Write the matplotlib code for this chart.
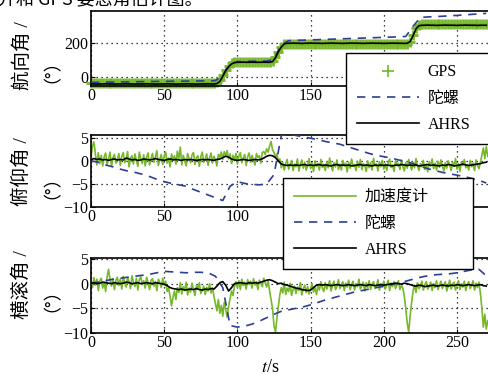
import numpy as np
import matplotlib
matplotlib.use("Agg")
import matplotlib.pyplot as plt

plt.rcParams['font.family'] = ['Liberation Serif', 'Noto Sans CJK SC']
plt.rcParams['mathtext.fontset'] = 'stix'
plt.rcParams['axes.unicode_minus'] = True

# ---------------- data ----------------
t_gps = np.arange(0, 272, 2)      # 2 s samples
t_acc = np.arange(0, 272, 1)      # 1 s samples
t_gyro = np.arange(0, 275, 5)     # 5 s samples

heading_gps = [
    -35, -34, -36, -35, -35, -34, -36, -35, -35, -34,
    -35, -36, -35, -34, -35, -35, -36, -35, -34, -35,
    -35, -36, -35, -34, -35, -35, -36, -35, -34, -35,
    -35, -36, -35, -34, -35, -35, -36, -35, -34, -35,
    -35, -34, -35,
    -30, -15, 10, 40, 65, 82, 88,
    89, 90, 88, 89, 90, 89, 88, 90, 89, 88, 89, 90,
    95, 120, 150, 180, 195,
    196, 197, 196, 195, 197, 196, 196, 197, 195, 196,
    197, 196, 195, 196, 197, 196, 196, 195, 197, 196,
    196, 197, 196, 195, 196, 197, 196, 196, 195, 197,
    196, 196, 197, 196, 195, 196, 197, 196, 196, 195,
    197, 196,
    210, 250, 290, 310,
    312, 313, 312, 311, 312, 313, 312, 312, 311, 313,
    312, 312, 313, 312, 311, 312, 313, 312, 312, 311,
    312, 313, 312,
]
heading_ahrs = [
    -40, -40, -41, -40, -40, -39, -40, -40, -41, -40,
    -40, -40, -39, -40, -40, -41, -40, -40, -40, -39,
    -40, -40, -41, -40, -40, -40, -39, -40, -40, -41,
    -40, -40, -40, -39, -40, -40, -41, -40, -40, -40,
    -39, -40, -40,
    -38, -25, 5, 40, 62, 78, 86,
    88, 88, 89, 88, 88, 89, 88, 88, 88, 89, 88, 88,
    92, 115, 150, 178, 196,
    200, 200, 201, 200, 200, 199, 200, 200, 201, 200,
    200, 200, 199, 200, 200, 201, 200, 200, 200, 199,
    200, 200, 201, 200, 200, 200, 199, 200, 200, 201,
    200, 200, 200, 199, 200, 200, 201, 200, 200, 200,
    199, 200,
    210, 245, 285, 303,
    306, 306, 307, 306, 306, 305, 306, 306, 307, 306,
    306, 306, 305, 306, 306, 307, 306, 306, 306, 305,
    306, 306, 306,
]
heading_gyro = [
    -30, -30, -29, -29, -28, -28, -27, -26, -26, -25,
    -25, -24, -24, -23, -23, -22, -22, -20, 10, 75,
    92, 93, 94, 95, 95, 105, 190, 215, 217, 218,
    220, 221, 223, 224, 226, 227, 229, 230, 232, 233,
    235, 236, 238, 240, 300, 352, 355, 357, 359, 362,
    364, 367, 370, 373, 376,
]

pitch_acc = [
    0.8, 3.2, 4.1, 1.5, -0.9, 1.8, -0.6, 1.2, -1.1, 0.9,
    1.7, -0.8, 0.4, 1.9, -1.2, 0.7, 1.4, -0.5, 0.2, 1.6,
    -1.0, 0.9, 1.8, -0.4, 0.3, 2.0, -1.3, 0.6, 1.1, -0.7,
    1.5, 0.1, -1.2, 1.9, 0.4, -0.6, 1.3, -1.1, 0.8, 1.7,
    -0.9, 0.5, 1.6, -0.3, 0.9, 2.2, -1.0, 0.3, 1.4, -0.8,
    1.0, 1.9, -0.5, 0.6, -1.3, 1.5, 0.2, 1.1, -0.7, 2.1,
    0.4, 3.0, -0.9, 1.2, 0.0, -1.1, 1.6, 0.5, -0.4, 1.3,
    1.8, -0.8, 0.7, 1.1, -1.2, 0.9, 1.9, -0.3, 0.4, 1.5,
    -1.0, 0.6, 1.7, -0.5, 1.0, 0.2, -1.1, 1.4, 0.8, 1.9,
    0.3, 2.0, 1.1, 2.2, 0.4, 1.5, -0.6, 1.2, 0.1, 1.6,
    -0.7, 1.0, 1.8, -0.4, 0.6, 1.4, -1.0, 0.9, 1.7, -0.3,
    1.2, 0.2, -0.9, 1.6, 0.7, 1.1, -0.5, 1.8, 2.0, 1.4,
    2.6, 1.9, 3.2, 4.2, 2.4, 1.8, 0.9, 1.5, -0.2, 0.4,
    -1.5, -0.4, -2.0, -0.6, 0.3, -1.8, -0.9, 0.1, -2.1, -0.7,
    -1.3, 0.4, -2.2, -0.8, 0.2, -1.6, -0.3, -2.0, -0.9, 0.5,
    -1.7, -0.5, -2.3, 0.0, -1.2, -0.6, -2.0, 0.3, -1.4, -0.8,
    -2.1, -0.2, -1.5, 0.6, -1.0, -2.2, -0.4, -1.3, 0.2, -1.9,
    -0.7, -2.0, 0.1, -1.1, -0.5, -2.4, -0.3, -1.6, 0.4, -1.2,
    -0.8, -2.1, -0.1, -1.4, 0.3, -1.9, -0.6, -1.0, -2.3, 0.0,
    -1.5, -0.4, -2.0, 0.5, -1.1, -0.7, -2.2, -0.2, -1.3, 0.1,
    -1.8, -0.6, -2.1, -0.3, 0.4, -1.4, -0.9, -2.3, 0.0, -1.0,
    -0.5, -1.9, 0.2, -1.2, -2.2, -0.4, -1.6, 0.3, -0.8, -2.0,
    -0.3, -1.5, 0.5, -1.1, -2.1, -0.6, -1.3, 0.1, -1.9, -0.7,
    -2.4, -0.2, -1.0, 0.4, -1.7, -0.5, -2.0, -0.1, -1.4, 0.2,
    -1.1, -2.2, -0.4, -1.6, 0.0, -0.9, -2.1, -0.3, -1.2, 0.5,
    -1.8, -0.6, -2.3, -0.2, -1.0, 0.3, -1.5, -0.8, -2.0, 0.1,
    -1.3, -0.5, -2.1, 0.2, -1.0, -1.7, -0.3, 1.2, 2.8, 0.5,
    3.1, 1.0,
]
pitch_ahrs = [
    0.2, 0.5, 0.3, 0.4, 0.2, 0.3, 0.1, 0.3, 0.4, 0.2,
    0.3, 0.2, 0.6, 0.4, 0.2, 0.3, 0.1, 0.2, 0.4, 0.3,
    0.2, 0.3, 0.5, 0.3, 0.2, 0.1, 0.3, 0.4, 0.2, 0.3,
    0.2, 0.1, 0.3, 0.2, 0.3, 0.2, 0.1, 0.2, 0.3, 0.2,
    0.3, 0.2, 0.1, 0.3, 0.4, 0.7, 1.0, 0.8, 0.4, 0.2,
    0.1, 0.2, 0.3, 0.2, 0.1, 0.2, 0.3, 0.2, 0.3, 0.6,
    1.0, 1.2, 1.1, 0.7, 0.0, -0.7, -0.9, -1.0, -0.9, -1.0,
    -0.9, -1.0, -0.9, -0.8, -1.0, -0.9, -1.0, -0.9, -0.8, -1.0,
    -0.9, -1.0, -1.1, -0.9, -0.8, -1.0, -0.9, -1.0, -0.9, -1.1,
    -1.0, -0.9, -0.8, -1.0, -0.9, -1.0, -1.1, -0.9, -1.0, -0.9,
    -1.0, -0.9, -1.0, -1.1, -0.9, -1.0, -0.8, -0.9, -1.0, -0.9,
    -1.0, -0.9, -1.1, -1.0, -0.9, -0.8, -1.0, -0.9, -1.0, -1.1,
    -0.9, -1.0, -0.8, -0.9, -1.1, -1.0, -0.9, -0.7, -0.9, -1.0,
    -0.9, -0.8, -0.7, -0.6, -0.4, -0.3,
]
pitch_gyro = [
    0.0, -0.3, -0.9, -1.3, -1.8, -2.2, -2.5, -2.9, -3.4, -4.0,
    -4.5, -4.9, -5.2, -5.5, -6.2, -6.8, -7.4, -8.0, -8.6, -5.5,
    -4.5, -4.9, -5.1, -5.2, -5.0, -3.0, 5.5, 5.8, 5.5, 5.2,
    4.9, 4.6, 4.2, 3.9, 3.6, 3.1, 2.6, 2.1, 1.6, 1.2,
    0.9, 0.6, 0.2, -0.2, -0.6, -1.2, -1.7, -2.1, -2.5, -2.8,
    -3.1, -3.4, -3.8, -4.2, -4.8,
]

roll_acc = [
    0.5, -0.8, 1.2, -0.3, 0.9, -1.4, 0.6, 1.1, -0.9, 0.3,
    -1.6, 1.4, 2.9, 0.8, -0.5, 1.0, -1.2, 0.7, 1.3, -0.4,
    0.9, -1.1, 1.5, 0.2, -0.7, 1.2, 0.4, -1.0, 1.6, 0.3,
    -0.6, 1.1, -1.3, 0.8, 1.4, -0.2, 0.6, -0.9, 1.3, 0.1,
    -1.2, 0.7, 1.0, -0.5, 0.4, -1.4, 0.9, 0.2, -0.8, 1.1,
    -0.3, 0.5, -1.6, -0.9, -2.5, -4.5, -2.8, -1.5, -3.2, -0.8,
    -1.8, 0.2, -2.1, -0.6, -1.4, 0.3, -2.3, -0.9, -1.7, 0.1,
    -1.2, -2.4, -0.4, -1.0, 0.2, -2.0, -1.3, -0.5, -2.2, -0.7,
    -1.5, 0.0, -1.9, -0.8, -2.6, -4.0, -5.5, -3.2, -6.0, -4.4,
    -6.6, -3.8, -5.2, -6.8, -4.6, -3.0, -1.5, -2.4, -0.6, 0.4,
    -0.8, 0.6, -1.2, 0.9, -0.4, 0.3, -1.1, 0.8, -0.2, 0.5,
    -0.9, 1.0, -0.3, 0.4, -1.2, 0.7, 0.1, -0.6, 1.1, 0.2,
    -0.7, 0.6, -1.5, -3.2, -5.0, -8.5, -9.8, -7.0, -4.5, -2.2,
    -0.8, -1.9, 0.3, -2.2, -0.9, -1.6, 0.1, -2.4, -1.2, -0.5,
    -2.0, -0.7, -1.4, 0.2, -2.3, -1.0, -0.3, -1.8, -0.6, -2.1,
    -1.1, 0.0, -1.7, -0.8, -2.2, -0.4, -1.3, 0.4, -0.9, -1.6,
    0.2, -1.1, -0.4, 0.6, -1.5, -0.2, 0.5, -1.2, -0.6, 0.8,
    -1.0, -0.3, 0.4, -1.4, 0.1, -0.7, 0.7, -1.2, -0.2, 0.5,
    -1.3, 0.0, -0.6, 0.9, -1.1, -0.4, 0.3, -1.5, 0.2, -0.8,
    0.6, -1.2, -0.1, 0.4, -1.0, -0.5, 0.8, -1.3, 0.0, -0.7,
    0.5, -1.1, -0.3, 0.7, -1.4, 0.1, -0.6, 0.4, -1.0, -0.2,
    0.6, -1.2, -0.4, -0.9, -2.5, -5.0, -8.0, -9.8, -6.5, -3.8,
    -1.5, -0.3, -1.8, 0.2, -1.0, -0.5, 0.5, -1.3, -0.2, 0.4,
    -1.1, -0.6, 0.3, -1.4, 0.0, -0.8, 0.6, -1.2, -0.3, 0.5,
    -1.0, -0.2, 0.4, -1.5, -0.5, 0.7, -1.1, -0.1, 0.3, -1.3,
    -0.4, 0.6, -1.2, 0.0, -0.7, 0.5, -1.4, -0.2, 0.4, -1.0,
    -0.3, 0.6, -1.3, 0.1, -0.8, 0.3, -2.0, -5.0, -8.8, -6.2,
    -9.2, -7.5,
]
roll_ahrs = [
    0.1, 0.2, 0.0, 0.1, 0.3, 0.2, 0.1, 0.0, 0.2, 0.1,
    0.0, 0.1, 0.3, 0.2, 0.0, 0.1, 0.2, 0.0, 0.1, 0.2,
    0.1, 0.0, 0.2, 0.1, 0.0, -0.1, -0.4, -0.8, -1.0, -1.1,
    -1.2, -1.1, -1.3, -1.2, -1.1, -1.2, -1.0, -1.2, -1.3, -1.1,
    -1.2, -1.0, -1.1, -0.5, 0.2, 0.4, -0.3, -1.5, -0.8, 0.0,
    0.1, 0.2, 0.1, 0.0, 0.2, 0.1, 0.2, 0.1, 0.3, 0.5,
    0.7, 0.8, 0.6, 0.3, 0.0, 0.1, -0.2, -0.3, -0.5, -0.7,
    -0.9, -1.0, -1.2, -1.3, -1.4, -1.3, -0.8, -0.3, -0.2, -0.3,
    -0.2, -0.3, -0.4, -0.3, -0.2, -0.3, -0.4, -0.3, -0.2, -0.3,
    -0.4, -0.3, -0.2, -0.3, -0.4, -0.2, -0.3, -0.4, -0.3, -0.2,
    -0.3, -0.2, -0.1, 0.0, 0.1, 0.0, -0.1, 0.1, 0.0, -0.2,
    -0.4, -0.5, -0.3, -0.4, -0.6, -0.5, -0.4, -0.3, -0.5, -0.4,
    -0.3, -0.4, -0.5, -0.3, -0.4, -0.2, -0.3, -0.4, -0.3, -0.2,
    -0.3, -0.4, -0.3, -0.2, -0.4, -0.5,
]
roll_gyro = [
    0.0, 0.3, 0.6, 0.9, 1.1, 1.3, 1.5, 1.7, 1.9, 2.2,
    2.5, 2.4, 2.3, 2.2, 2.3, 2.3, 2.2, 1.5, -0.8, -8.5,
    -8.8, -8.6, -8.2, -7.6, -6.9, -6.2, -5.6, -5.3, -5.0, -4.7,
    -4.3, -3.8, -3.3, -2.9, -2.5, -2.1, -1.7, -1.4, -1.1, -0.8,
    -0.5, -0.2, 0.1, 0.5, 0.9, 1.3, 1.6, 1.8, 1.9, 2.0,
    2.2, 2.5, 2.8, 2.9, 1.6,
]

x_ticks = [0, 50, 100, 150, 200, 250]
heading_ticks = [0, 200]
angle_ticks = [-10, -5, 0, 5]
ylabels = ["航向角 /", "俯仰角 /", "横滚角 /"]
unit_label = "（°）"
legend_top = ["GPS", "陀螺", "AHRS"]
legend_mid = ["加速度计", "陀螺", "AHRS"]
caption = "并和 GPS 姿态角估计图。"

# ---------------- style ----------------
GREEN = "#76b82a"
BLUE = "#2b3f94"
W, H = 489, 374
fig = plt.figure(figsize=(W / 100, H / 100), dpi=100)

def rect(left, top, right, bottom):
    return [left / W, 1 - bottom / H, (right - left) / W, (bottom - top) / H]

XMAX = 280
right_px = 91 + XMAX * 1.464
ax1 = fig.add_axes(rect(91, 11, right_px, 86))
ax2 = fig.add_axes(rect(91, 135, right_px, 207))
ax3 = fig.add_axes(rect(91, 258, right_px, 333))
ax1.set_zorder(3)
ax2.set_zorder(2)
ax3.set_zorder(1)

for ax in (ax1, ax2, ax3):
    ax.set_xlim(0, XMAX)
    ax.set_xticks(x_ticks)
    ax.tick_params(direction='in', length=3, width=0.8, labelsize=11.5, pad=2)
    ax.tick_params(axis='x', pad=1.5)
    ax.grid(True, linestyle=(0, (1, 3)), color='black', linewidth=0.9)
    for s in ax.spines.values():
        s.set_linewidth(1.2)

# heading
ax1.plot(t_gps, heading_gps, linestyle='none', marker='+', color=GREEN,
         markersize=7.5, markeredgewidth=2.0, label=legend_top[0], clip_on=False, zorder=2)
ax1.plot(t_gyro, heading_gyro, linestyle=(0, (5, 4)), color=BLUE, linewidth=1.2,
         label=legend_top[1], zorder=3)
ax1.plot(t_gps, heading_ahrs, color='black', linewidth=1.2, label=legend_top[2], zorder=4)
ax1.set_ylim(-52, 390)
ax1.set_yticks(heading_ticks)

# pitch
ax2.plot(t_acc, pitch_acc, color=GREEN, linewidth=1.2, label=legend_mid[0], zorder=2)
ax2.plot(t_gyro, pitch_gyro, linestyle=(0, (5, 4)), color=BLUE, linewidth=1.2,
         label=legend_mid[1], zorder=3)
ax2.plot(t_gps, pitch_ahrs, color='black', linewidth=1.2, label=legend_mid[2], zorder=4)
ax2.set_ylim(-10, 5.6)
ax2.set_yticks(angle_ticks)

# roll
ax3.plot(t_acc, roll_acc, color=GREEN, linewidth=1.2, zorder=2)
ax3.plot(t_gyro, roll_gyro, linestyle=(0, (5, 4)), color=BLUE, linewidth=1.2, zorder=3)
ax3.plot(t_gps, roll_ahrs, color='black', linewidth=1.2, zorder=4)
ax3.set_ylim(-10, 5.2)
ax3.set_yticks(angle_ticks)

leg_kw = dict(loc='upper left', mode='expand', bbox_transform=fig.transFigure,
              frameon=True, fancybox=False, framealpha=1, edgecolor='black',
              fontsize=11.5, handlelength=3.9, handletextpad=0.5, borderpad=0.7,
              labelspacing=0.65, borderaxespad=0)
leg1 = ax1.legend(bbox_to_anchor=(346 / W, 1 - 144 / H, 180 / W, 91 / H), **leg_kw)
leg2 = ax2.legend(bbox_to_anchor=(283 / W, 1 - 272 / H, 190 / W, 94 / H), **leg_kw)
for leg in (leg1, leg2):
    leg.get_frame().set_linewidth(1.0)
    leg.set_zorder(10)
leg1.legend_handles[0].set_markeredgewidth(1.2)
leg1.legend_handles[0].set_markersize(9)

# y labels (two rotated columns)
centers = [56, 172, 285]
for lab, cy in zip(ylabels, centers):
    fig.text(22 / W, 1 - cy / H, lab, rotation=90, ha='center', va='center', fontsize=14)
    fig.text(43 / W, 1 - (cy + 6) / H, unit_label, rotation=90, ha='center', va='center',
             fontsize=13, family=['Noto Sans CJK SC', 'Liberation Serif'])

# x label
fig.text(270 / W, 1 - 367 / H, "$t$/s", ha='center', va='center', fontsize=13)

# cropped caption at the top
fig.text(-2 / W, 1.0, caption, ha='left', va='center', fontsize=13,
         family=['Noto Sans CJK SC', 'Liberation Serif'])

fig.savefig("out.png", dpi=100)
